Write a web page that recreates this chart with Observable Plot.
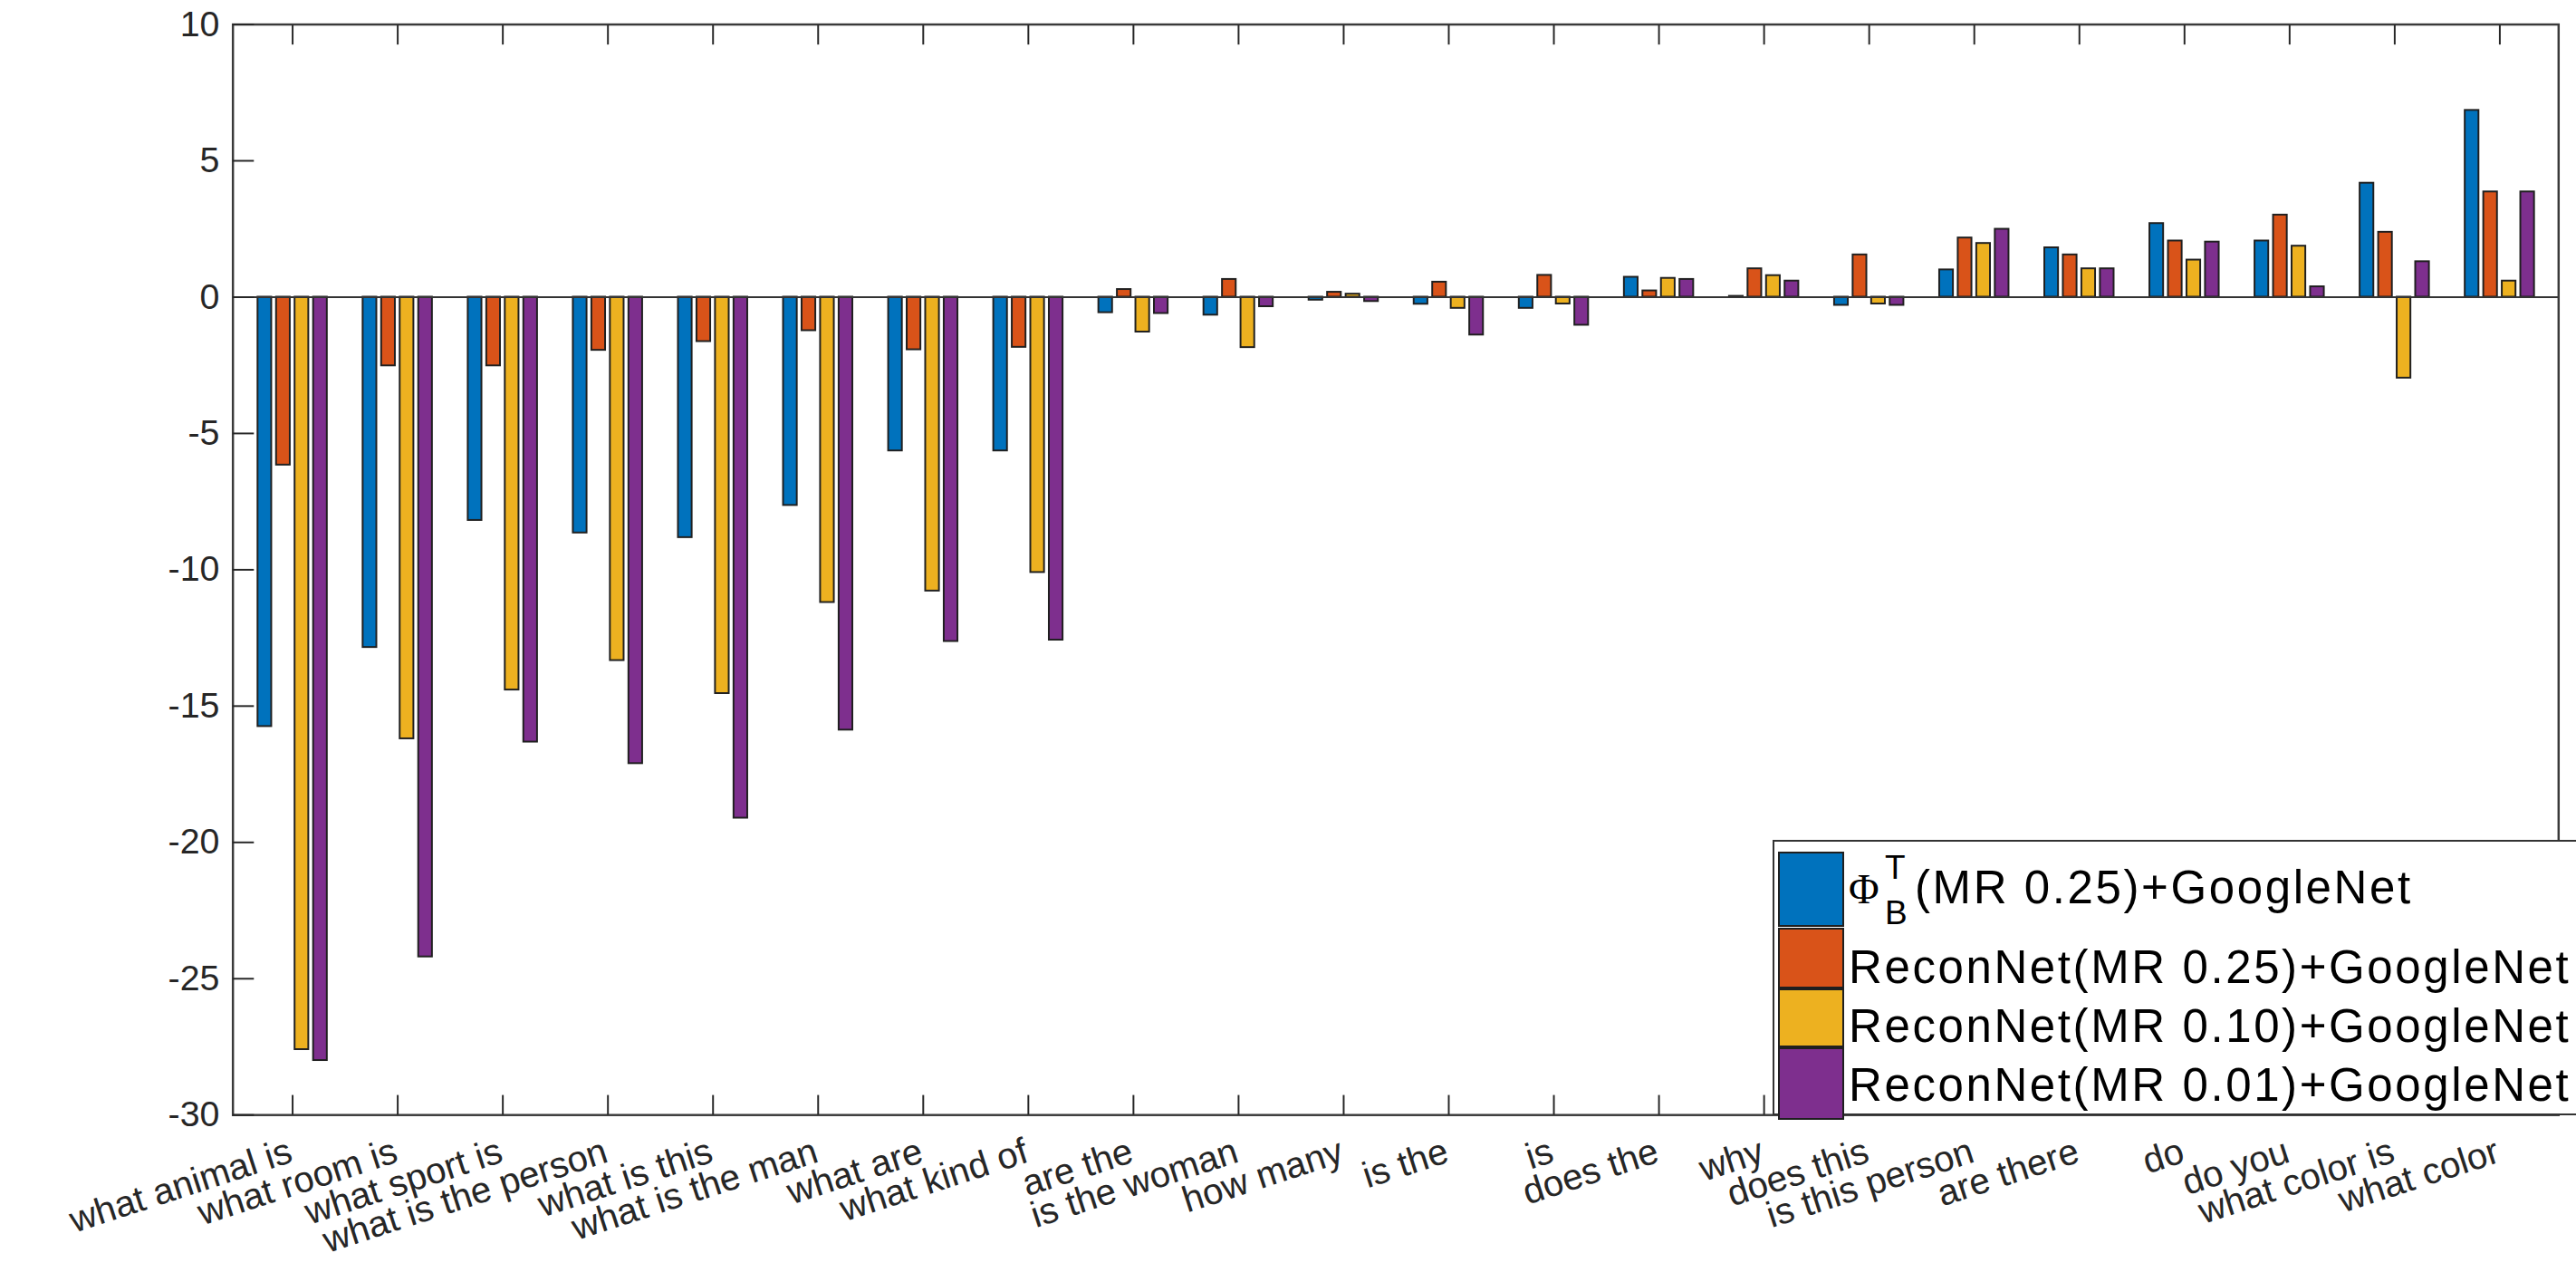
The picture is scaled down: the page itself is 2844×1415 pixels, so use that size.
<!DOCTYPE html>
<html>
<head>
<meta charset="utf-8">
<script src="https://cdn.jsdelivr.net/npm/d3@7"></script>
<script src="https://cdn.jsdelivr.net/npm/@observablehq/plot@0.6"></script>
<style>
  html, body { margin: 0; padding: 0; background: #fff; overflow: hidden; width: 2844px; height: 1415px; }
  #wrap { position: relative; width: 2844px; height: 1415px; overflow: hidden; }
  #chart { position: absolute; left: 0; top: 0; }
  #legend { position: absolute; left: 1957px; top: 927px; }
</style>
</head>
<body>
<div id="wrap"><div id="chart"></div><div id="legend"></div></div>
<script>
// ---- data ----
const categories = [
  "what animal is", "what room is", "what sport is", "what is the person",
  "what is this", "what is the man", "what are", "what kind of",
  "are the", "is the woman", "how many", "is the", "is", "does the",
  "why", "does this", "is this person", "are there", "do", "do you",
  "what color is", "what color"
];
const seriesNames = [
  "Φ_B^T(MR 0.25)+GoogleNet",
  "ReconNet(MR 0.25)+GoogleNet",
  "ReconNet(MR 0.10)+GoogleNet",
  "ReconNet(MR 0.01)+GoogleNet"
];
const phiB_025 = [-15.75, -12.85, -8.19, -8.65, -8.82, -7.64, -5.64, -5.64,
  -0.57, -0.66, -0.11, -0.26, -0.41, 0.73, 0.03, -0.30, 1.00, 1.81, 2.70, 2.06, 4.18, 6.85];
const reconNet_025 = [-6.16, -2.52, -2.52, -1.95, -1.63, -1.23, -1.93, -1.84,
  0.28, 0.65, 0.18, 0.55, 0.80, 0.23, 1.04, 1.55, 2.17, 1.55, 2.06, 3.01, 2.38, 3.86];
const reconNet_010 = [-27.6, -16.2, -14.41, -13.33, -14.54, -11.2, -10.78, -10.1,
  -1.28, -1.85, 0.11, -0.41, -0.25, 0.69, 0.79, -0.25, 1.97, 1.04, 1.36, 1.87, -2.97, 0.59];
const reconNet_001 = [-28.0, -24.2, -16.32, -17.11, -19.11, -15.88, -12.63, -12.58,
  -0.60, -0.35, -0.16, -1.39, -1.03, 0.65, 0.59, -0.30, 2.49, 1.04, 2.02, 0.38, 1.30, 3.86];
const seriesValues = [phiB_025, reconNet_025, reconNet_010, reconNet_001];
const colors = ["#0072BD", "#D95319", "#EDB120", "#7E2F8E"];
const yTicks = [-30, -25, -20, -15, -10, -5, 0, 5, 10];

// ---- chart ----
const font = '"Liberation Sans", Arial, Helvetica, sans-serif';
const barMarks = seriesValues.map((vals, s) =>
  Plot.barY(categories.map((c, i) => ({category: c, value: vals[i]})), {
    x: "category", y: "value",
    fill: colors[s], stroke: "#1f1f1f", strokeWidth: 2,
    insetLeft: 51.3, insetRight: 51.3, dx: (s - 1.5) * 20.8
  })
);

const chart = Plot.plot({
  width: 2892, height: 1415,
  marginLeft: 261, marginRight: 20, marginTop: 27, marginBottom: 164,
  x: {domain: categories, padding: 0, label: null},
  y: {domain: [-30, 10], label: null},
  style: {fontFamily: font, background: "white", color: "#262626"},
  marks: [
    ...barMarks,
    Plot.ruleY([0], {stroke: "#333", strokeWidth: 2}),
    Plot.frame({stroke: "#3a3a3a", strokeWidth: 2.5}),
    Plot.axisY(yTicks, {anchor: "left", tickSize: -24, tickPadding: 39,
      tickFormat: d => String(d), fontSize: 40, stroke: "#262626", fill: "#262626", strokeWidth: 2}),
    Plot.axisX(categories, {anchor: "bottom", tickSize: -22, tickFormat: () => "", stroke: "#262626", strokeWidth: 2}),
    Plot.axisX(categories, {anchor: "top", tickSize: -22, tickFormat: () => "", stroke: "#262626", strokeWidth: 2}),
    Plot.text(categories, {x: d => d, text: d => d, frameAnchor: "bottom",
      rotate: -18, textAnchor: "end", lineAnchor: "bottom", dy: 52, dx: 2,
      fontSize: 41, fill: "#262626"})
  ]
});
document.getElementById("chart").appendChild(chart);

// ---- legend ----
const lg = d3.select("#legend").append("svg")
  .attr("width", 1000).attr("height", 320)
  .style("font-family", font);
lg.append("rect").attr("x", 1).attr("y", 1).attr("width", 1100).attr("height", 302)
  .attr("fill", "white").attr("stroke", "#333").attr("stroke-width", 2);
const swatchY = [14, 98, 165, 230];
const swatchH = [81, 65, 63, 78];
const baseY = [70, 158, 223, 288];
seriesNames.forEach((name, i) => {
  lg.append("rect").attr("x", 7).attr("y", swatchY[i]).attr("width", 71).attr("height", swatchH[i])
    .attr("fill", colors[i]).attr("stroke", "#1f1f1f").attr("stroke-width", 2);
  const m = name.match(/^(.)_(.)\^(.)(.*)$/);
  if (m) {
    lg.append("text").attr("x", 84).attr("y", baseY[i]).attr("font-family", '"Liberation Serif", "Times New Roman", serif')
      .attr("font-size", 46).text(m[1]);
    lg.append("text").attr("x", 124).attr("y", baseY[i] - 27).attr("font-size", 37).text(m[3]);
    lg.append("text").attr("x", 124).attr("y", baseY[i] + 23).attr("font-size", 37).text(m[2]);
    lg.append("text").attr("x", 157).attr("y", baseY[i]).attr("font-size", 51)
      .attr("letter-spacing", 2.6).text(m[4]);
  } else {
    lg.append("text").attr("x", 84).attr("y", baseY[i]).attr("font-size", 51)
      .attr("letter-spacing", 2.6).text(name);
  }
});
</script>
</body>
</html>
